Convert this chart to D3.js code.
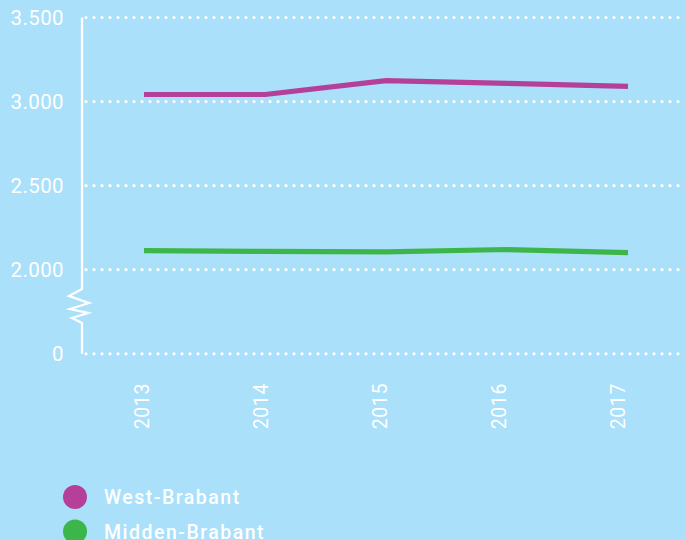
<!DOCTYPE html>
<html>
<head>
<meta charset="utf-8">
<script src="https://cdn.jsdelivr.net/npm/d3@7"></script>
<style>
  html, body { margin: 0; padding: 0; background: #aae0fa; }
  svg { display: block; font-family: Roboto, "DejaVu Sans", sans-serif; }
</style>
</head>
<body>
<div id="chart"></div>
<script>
// data
const years = ["2013", "2014", "2015", "2016", "2017"];
const westBrabant = [3042, 3042, 3125, 3108, 3090];
const middenBrabant = [2114, 2109, 2106, 2120, 2102];
const yTicks = [0, 2000, 2500, 3000, 3500];
const seriesNames = ["West-Brabant", "Midden-Brabant"];
const seriesColors = ["#b5409a", "#3cb64a"];

const width = 686, height = 540;

const svg = d3.select("#chart").append("svg")
    .attr("width", width)
    .attr("height", height);

svg.append("rect").attr("width", width).attr("height", height).attr("fill", "#aae0fa");

// broken y axis: 0..2000 squeezed into one tick step
const y = d3.scaleLinear()
    .domain([0, 2000, 3500])
    .range([353.8, 269.7, 17.5]);

const x = d3.scalePoint().domain(years).range([144, 628]);
const xLabel = d3.scalePoint().domain(years).range([142, 618]);

const nl = d3.formatLocale({ decimal: ",", thousands: ".", grouping: [3], currency: ["€", ""] });
const fmt = nl.format(",");

// dotted gridlines
svg.append("g")
    .selectAll("line")
    .data(yTicks)
    .join("line")
    .attr("x1", 86)
    .attr("x2", width)
    .attr("y1", d => y(d))
    .attr("y2", d => y(d))
    .attr("stroke", "#fff")
    .attr("stroke-width", 3.2)
    .attr("stroke-linecap", "round")
    .attr("stroke-dasharray", "0 8");

// y tick labels
svg.append("g")
    .selectAll("text")
    .data(yTicks)
    .join("text")
    .attr("x", 64)
    .attr("y", d => y(d))
    .attr("dy", "0.36em")
    .attr("text-anchor", "end")
    .attr("fill", "#fff")
    .attr("font-size", 20.5)
    .attr("letter-spacing", 0.4)
    .text(d => fmt(d));

// axis line with the zigzag break
const ax = 82;
const axisPts = [
    [ax, y(3500)], [ax, 289], [69, 296], [89, 303], [70, 309],
    [88, 313], [72, 318], [ax, 323], [ax, y(0)]
];
svg.append("path")
    .attr("d", d3.line()(axisPts))
    .attr("fill", "none")
    .attr("stroke", "#fff")
    .attr("stroke-width", 2.3)
    .attr("stroke-linejoin", "miter");

// x labels, rotated
svg.append("g")
    .selectAll("text")
    .data(years)
    .join("text")
    .attr("transform", d => `translate(${xLabel(d)},383) rotate(-90)`)
    .attr("dy", "0.36em")
    .attr("text-anchor", "end")
    .attr("fill", "#fff")
    .attr("font-size", 19.5)
    .attr("letter-spacing", 0.6)
    .text(d => d);

// lines
const line = d3.line()
    .x((d, i) => x(years[i]))
    .y(d => y(d));

[westBrabant, middenBrabant].forEach((vals, i) => {
    svg.append("path")
        .datum(vals)
        .attr("d", line)
        .attr("fill", "none")
        .attr("stroke", seriesColors[i])
        .attr("stroke-width", 5.2)
        .attr("stroke-linejoin", "round");
});

// legend
const legend = svg.append("g")
    .selectAll("g")
    .data(seriesNames)
    .join("g")
    .attr("transform", (d, i) => `translate(75,${497 + i * 34.5})`);

legend.append("circle")
    .attr("r", 12)
    .attr("fill", (d, i) => seriesColors[i]);

legend.append("text")
    .attr("x", 29)
    .attr("dy", "0.36em")
    .attr("fill", "#fff")
    .attr("font-size", 19.5)
    .attr("font-weight", 500)
    .attr("letter-spacing", 1.5)
    .text(d => d);
</script>
</body>
</html>
